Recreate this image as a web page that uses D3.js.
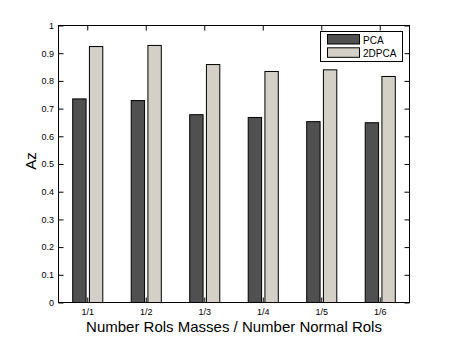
<!DOCTYPE html>
<html><head><meta charset="utf-8">
<script src="https://cdn.jsdelivr.net/npm/d3@7"></script>
<style>body{margin:0;background:#fff}svg{display:block}text{font-family:"Liberation Sans",Arial,sans-serif}</style>
</head><body><svg id="c" width="453" height="340"></svg>
<script>
const categories = ["1/1","1/2","1/3","1/4","1/5","1/6"];
const seriesNames = ["PCA","2DPCA"];
const pcaValues = [0.735,0.729,0.678,0.668,0.653,0.649];
const twoDpcaValues = [0.924,0.928,0.859,0.834,0.840,0.816];
const yTicks = [0,0.1,0.2,0.3,0.4,0.5,0.6,0.7,0.8,0.9,1];
const colors = ["#505050","#d4d0c8"];

(function(){
const svg = d3.select("#c");
const L=58.5, R=409.5, T=25.5, B=302.5;
const x = d3.scaleBand().domain(categories).range([L,R]).paddingInner(0).paddingOuter(0);
const bw = x.bandwidth();
const y = d3.scaleLinear().domain([0,1]).range([B,T]);
const series = [pcaValues, twoDpcaValues];

const g = svg.append("g");
categories.forEach((c,i)=>{
  const cx = x(c)+bw/2;
  const xs = d3.scaleBand().domain(seriesNames).range([cx-0.2857*bw, cx+0.2857*bw]).paddingInner(0.2).paddingOuter(0.1);
  seriesNames.forEach((s,j)=>{
    g.append("rect").attr("x",xs(s)).attr("width",xs.bandwidth())
      .attr("y",y(series[j][i])).attr("height",B-y(series[j][i]))
      .attr("fill",colors[j]).attr("stroke","#000").attr("stroke-width",1);
  });
});

svg.append("rect").attr("x",L).attr("y",T).attr("width",R-L).attr("height",B-T).attr("fill","none").attr("stroke","#000");

const tl = 5;
const axL = d3.axisLeft(y).tickValues(yTicks).tickFormat(d3.format("")).tickSizeInner(-tl).tickSizeOuter(0).tickPadding(4.5);
svg.append("g").attr("transform",`translate(${L},0)`).call(axL);
const axR = d3.axisRight(y).tickValues(yTicks).tickFormat("").tickSizeInner(-tl).tickSizeOuter(0);
svg.append("g").attr("transform",`translate(${R},0)`).call(axR);
const axB = d3.axisBottom(x).tickSizeInner(-tl).tickSizeOuter(0).tickPadding(6);
svg.append("g").attr("transform",`translate(0,${B})`).call(axB);
const axT = d3.axisTop(x).tickFormat("").tickSizeInner(-tl).tickSizeOuter(0);
svg.append("g").attr("transform",`translate(0,${T})`).call(axT);
svg.selectAll(".domain").remove();
svg.selectAll(".tick text").attr("font-size",9).attr("font-family","Liberation Sans, Arial, sans-serif").attr("fill","#000");
svg.selectAll(".tick line").attr("stroke","#000");

svg.append("text").attr("x",(L+R)/2).attr("y",331.5).attr("text-anchor","middle").attr("font-size",15).text("Number Rols Masses / Number Normal Rols");
svg.append("text").attr("transform","translate(36,161) rotate(-90)").attr("text-anchor","middle").attr("font-size",15).text("Az");

const lg = svg.append("g");
lg.append("rect").attr("x",320.5).attr("y",31.5).attr("width",82).attr("height",30).attr("fill","#fff").attr("stroke","#000");
seriesNames.forEach((s,j)=>{
  lg.append("rect").attr("x",327.5).attr("y",34.5+j*13.3).attr("width",32).attr("height",9.5).attr("fill",colors[j]).attr("stroke","#000");
  lg.append("text").attr("x",363).attr("y",43.5+j*13.3).attr("font-size",10).text(s);
});
})();
</script></body></html>
